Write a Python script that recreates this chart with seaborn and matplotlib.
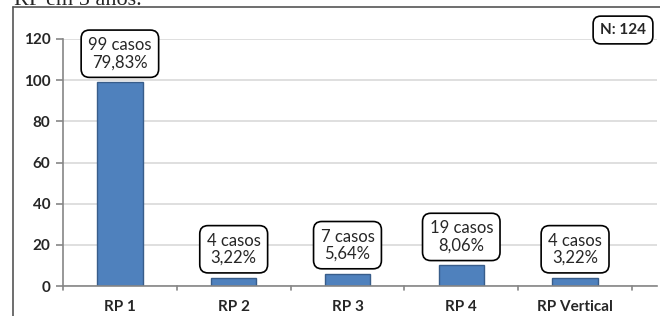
import matplotlib
matplotlib.use("Agg")
import matplotlib.pyplot as plt
import seaborn as sns
import pandas as pd
from matplotlib.lines import Line2D

categories = ["RP 1", "RP 2", "RP 3", "RP 4", "RP Vertical"]
values = [99, 4, 6, 10, 4]
labels = ["99 casos\n79,83%", "4 casos\n3,22%", "7 casos\n5,64%", "19 casos\n8,06%", "4 casos\n3,22%"]
yticks = [0, 20, 40, 60, 80, 100, 120]
n_label = "N: 124"
title = "RP em 5 anos."

sns.set_theme(style="white")
plt.rcParams['font.family'] = ['Lato', 'DejaVu Sans']

W, H = 660, 316
fig = plt.figure(figsize=(W / 100, H / 100), dpi=100)
ax = fig.add_axes([63 / W, (H - 286) / H, (657 - 63) / W, (286 - 39) / H])

df = pd.DataFrame({"cat": categories, "val": values})
sns.barplot(data=df, x="cat", y="val", ax=ax, color="#4F81BD", width=0.4,
            edgecolor="#385D8A", linewidth=1.0, saturation=1)

ax.set_xlim(-0.5, 4.72)
ax.set_ylim(0, 120)
ax.set_yticks(yticks)
ax.set_yticklabels([str(v) for v in yticks], fontsize=11, fontweight="bold")
ax.set_xticks(range(len(categories)))
ax.set_xticklabels(categories, fontsize=11, fontweight="bold")
ax.set_xlabel("")
ax.set_ylabel("")
ax.yaxis.grid(True, color="#D9D9D9", linewidth=1.2)
ax.set_axisbelow(True)
for s in ["top", "right"]:
    ax.spines[s].set_visible(False)
for s in ["left", "bottom"]:
    ax.spines[s].set_color("#868686")
    ax.spines[s].set_linewidth(1.2)
ax.tick_params(axis="y", length=5, color="#868686", width=1.2, pad=4, left=True)
ax.tick_params(axis="x", length=0, pad=10)
# category boundary ticks
for b in [-0.5, 0.5, 1.5, 2.5, 3.5, 4.5]:
    ax.plot([b, b], [0, -2.0], color="#868686", lw=1.2, clip_on=False)

for i, (v, lab) in enumerate(zip(values, labels)):
    ax.annotate(lab, xy=(i, v), xytext=(0, 28.5), textcoords="offset pixels",
                ha="center", va="center", fontsize=12, linespacing=1.1,
                bbox=dict(boxstyle="round,pad=0.42,rounding_size=0.5", fc="white", ec="black", lw=1.2))

fig.text(623 / W, 1 - 30 / H, n_label, ha="center", va="center", fontsize=11, fontweight="bold",
         bbox=dict(boxstyle="round,pad=0.45,rounding_size=0.5", fc="white", ec="black", lw=1.2))

# outer frame (left and top)
fig.add_artist(Line2D([13 / W, 13 / W], [0, 1 - 7 / H], color="#555555", lw=1.2))
fig.add_artist(Line2D([13 / W, 1], [1 - 7 / H, 1 - 7 / H], color="#555555", lw=1.2))

# cropped title at the very top (cut by the page edge as in the original)
fig.text(14 / W, 1 - 5 / H, title, ha="left", va="baseline", fontsize=16,
         family=["Liberation Serif", "DejaVu Serif"])

fig.savefig("out.png", dpi=100)
